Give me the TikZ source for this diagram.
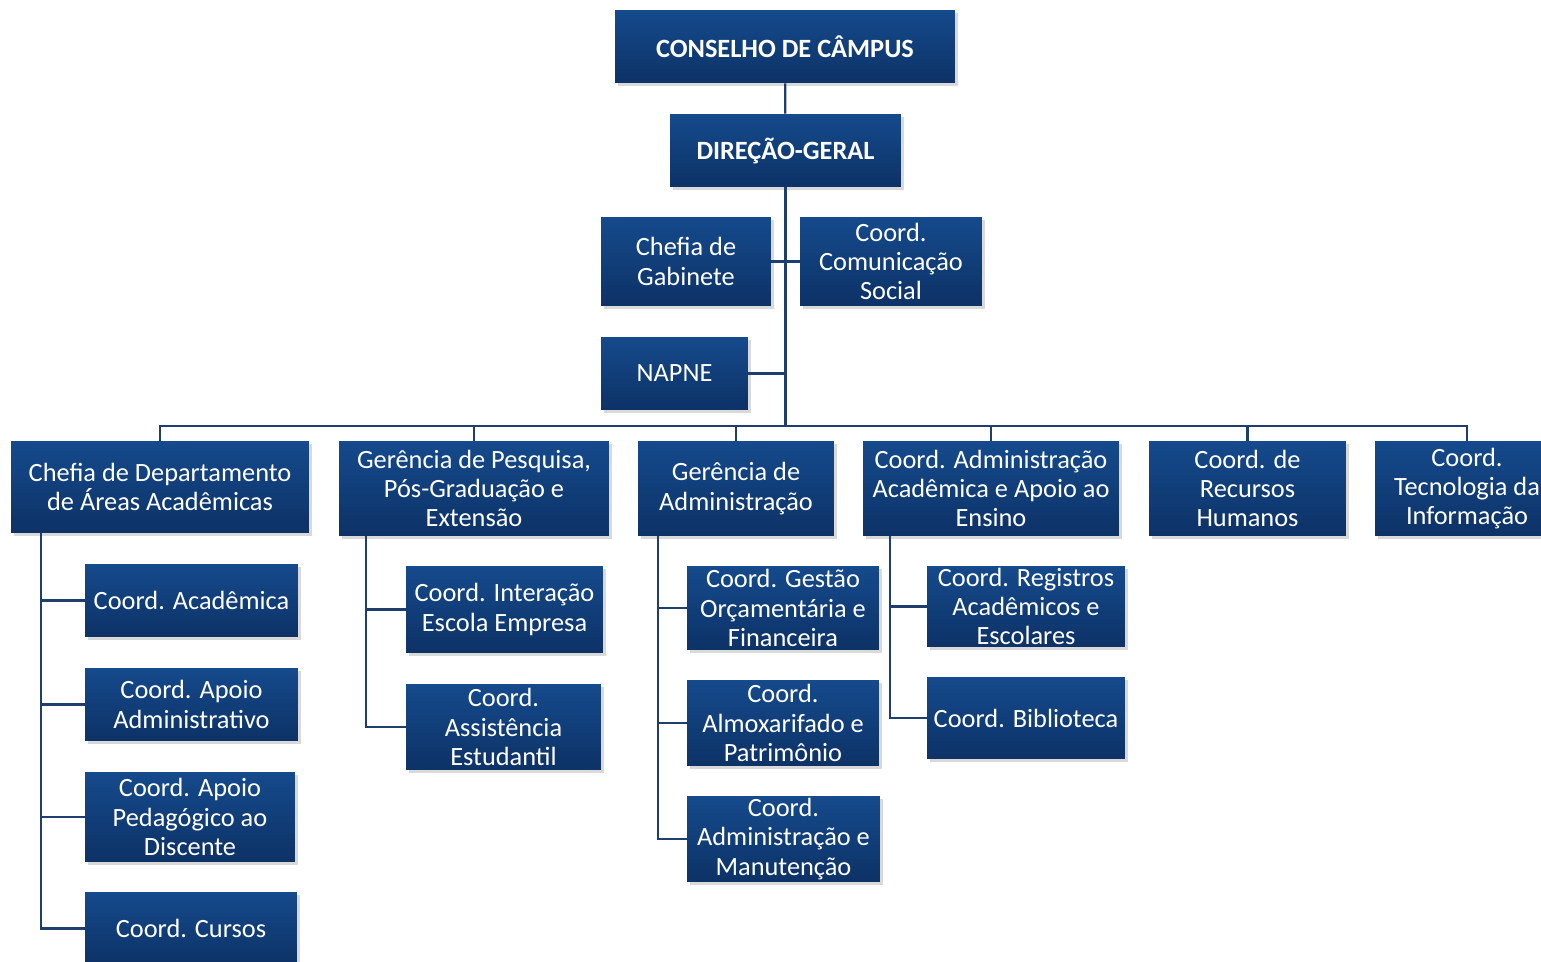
\documentclass[tikz,border=0pt]{standalone}
\usepackage{fontspec}
\setmainfont{Carlito}
\usetikzlibrary{shadows}
\definecolor{boxtop}{RGB}{21,74,140}
\definecolor{boxbot}{RGB}{13,50,102}
\definecolor{linecol}{RGB}{30,62,110}

\begin{document}
\begin{tikzpicture}[x=0.02cm,y=-0.02cm]
							\tikzstyle{unit}=[draw=none,top color=boxtop,bottom color=boxbot,text=white,align=center,inner sep=0pt,
								drop shadow={opacity=0.3,shadow xshift=1.5pt,shadow yshift=-1.8pt},
								font=\fontsize{15}{16.7}\selectfont]
							\tikzstyle{head}=[unit,font=\fontsize{15}{16.7}\selectfont\bfseries]
							\tikzstyle{link}=[draw=linecol,line width=1.3pt]
							\useasboundingbox (0,0) rectangle (1541,962);
							% top
							\node[head,minimum width=6.8cm,minimum height=1.46cm] (conselho) at (785,46.5) {CONSELHO DE CÂMPUS};
							\node[head,minimum width=4.62cm,minimum height=1.46cm] (direcao) at (785.5,150.5) {DIREÇÃO-GERAL};
							\node[unit,minimum width=3.4cm,minimum height=1.78cm] (chefgab) at (686,261.5) {Chefia de\\Gabinete};
							\node[unit,minimum width=3.64cm,minimum height=1.78cm] (comunic) at (891,261.5) {Coord.\\Comunicação\\Social};
							\node[unit,minimum width=2.94cm,minimum height=1.46cm] (napne) at (674.5,373.5) {NAPNE};
							% second level
							\node[unit,minimum width=5.96cm,minimum height=1.84cm] (chefdep) at (160,487) {Chefia de Departamento\\de Áreas Acadêmicas};
							\node[unit,minimum width=5.4cm,minimum height=1.9cm] (gerpesq) at (474,488.5) {Gerência de Pesquisa,\\Pós-Graduação e\\Extensão};
							\node[unit,minimum width=3.92cm,minimum height=1.9cm] (geradm) at (736,488.5) {Gerência de\\Administração};
							\node[unit,minimum width=5.12cm,minimum height=1.9cm] (coordadmac) at (991,488.5) {Coord. Administração\\Acadêmica e Apoio ao\\Ensino};
							\node[unit,minimum width=3.94cm,minimum height=1.9cm] (coordrh) at (1247.5,488.5) {Coord. de\\Recursos\\Humanos};
							\node[unit,minimum width=3.68cm,minimum height=1.9cm] (coordti) at (1467,488.5) {Coord.\\Tecnologia da\\Informação};
							% under chefia de departamento
							\node[unit,minimum width=4.26cm,minimum height=1.46cm] (acad) at (191.5,600.5) {Coord. Acadêmica};
							\node[unit,minimum width=4.26cm,minimum height=1.46cm] (apoioadm) at (191.5,704.5) {Coord. Apoio\\Administrativo};
							\node[unit,minimum width=4.2cm,minimum height=1.8cm] (apoioped) at (190,817) {Coord. Apoio\\Pedagógico ao\\Discente};
							\node[unit,minimum width=4.24cm,minimum height=1.46cm] (cursos) at (191,928.5) {Coord. Cursos};
							% under gerencia de pesquisa
							\node[unit,minimum width=3.94cm,minimum height=1.74cm] (interacao) at (504.5,609.5) {Coord. Interação\\Escola Empresa};
							\node[unit,minimum width=3.9cm,minimum height=1.72cm] (assist) at (503.5,727) {Coord.\\Assistência\\Estudantil};
							% under gerencia de administracao
							\node[unit,minimum width=3.84cm,minimum height=1.68cm] (gestao) at (783,608) {Coord. Gestão\\Orçamentária e\\Financeira};
							\node[unit,minimum width=3.84cm,minimum height=1.72cm] (almox) at (783,723) {Coord.\\Almoxarifado e\\Patrimônio};
							\node[unit,minimum width=3.86cm,minimum height=1.72cm] (admman) at (783.5,839) {Coord.\\Administração e\\Manutenção};
							% under coord. administracao academica
							\node[unit,minimum width=3.96cm,minimum height=1.62cm] (registros) at (1026,606.5) {Coord. Registros\\Acadêmicos e\\Escolares};
							\node[unit,minimum width=3.96cm,minimum height=1.64cm] (biblio) at (1026,718) {Coord. Biblioteca};
							% helper points
							\coordinate (bus) at (785.5,426);
							\coordinate (t1) at (41,533);
							\coordinate (t2) at (366,536);
							\coordinate (t3) at (658,536);
							\coordinate (t4) at (890,536);
							% connectors
							\draw[link] (conselho) -- (direcao);
							\draw[link] (direcao.south) -- (bus);
							\draw[link] (chefgab.east) -- (comunic.west);
							\draw[link] (napne.east) -- (napne.east -| bus);
							\draw[link] (chefdep.north) |- (bus) -| (coordti.north);
							\foreach \n in {gerpesq,geradm,coordadmac,coordrh}
								\draw[link] (\n.north) -- (\n.north |- bus);
							\draw[link] (t1) |- (cursos.west);
							\foreach \n in {acad,apoioadm,apoioped}
								\draw[link] (\n.west) -- (\n.west -| t1);
							\draw[link] (t2) |- (assist.west);
							\draw[link] (interacao.west) -- (interacao.west -| t2);
							\draw[link] (t3) |- (admman.west);
							\foreach \n in {gestao,almox}
								\draw[link] (\n.west) -- (\n.west -| t3);
							\draw[link] (t4) |- (biblio.west);
							\draw[link] (registros.west) -- (registros.west -| t4);
							\end{tikzpicture}
\end{document}
